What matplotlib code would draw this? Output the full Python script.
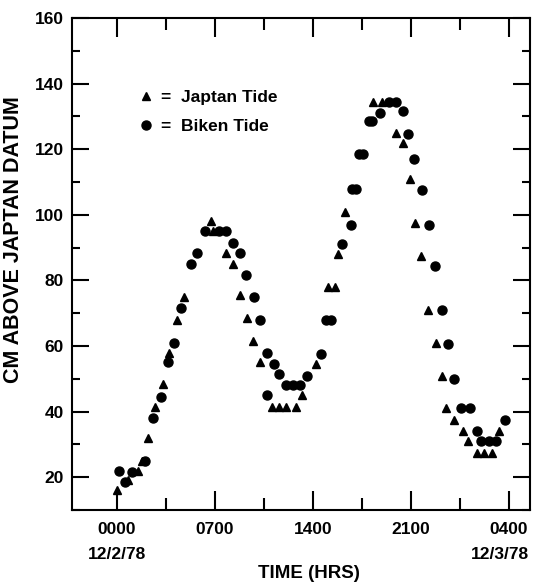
import matplotlib
matplotlib.use("Agg")
import matplotlib.pyplot as plt
import matplotlib.transforms as mtransforms

# hours after 0000 on 12/2/78, cm above Japtan datum
japtan_hrs = [0.0, 0.8, 1.5, 1.8, 2.2, 2.7, 3.3, 3.7, 4.3, 4.8,
              6.7, 6.9, 7.8, 8.3, 8.8, 9.3, 9.7, 10.2, 11.1, 11.6,
              12.1, 12.8, 13.2, 14.2, 15.1, 15.6, 15.8, 16.3, 18.3, 18.9,
              19.9, 20.4, 20.9, 21.3, 21.75, 22.2, 22.8, 23.2, 23.5, 24.1,
              24.7, 25.1, 25.7, 26.2, 26.8, 27.3]
japtan_cm = [16, 19, 22, 25, 32, 41.5, 48.5, 58, 68, 75,
             98, 95, 88.5, 85, 75.5, 68.5, 61.5, 55, 41.5, 41.5,
             41.5, 41.5, 45, 54.5, 78, 78, 88, 101, 134.5, 134.5,
             125, 121.8, 111, 97.5, 87.5, 71, 61, 51, 41, 37.5,
             34, 31, 27.5, 27.5, 27.5, 34]

biken_hrs = [0.15, 0.6, 1.05, 2.0, 2.6, 3.15, 3.65, 4.1, 4.6, 5.3,
             5.75, 6.3, 7.3, 7.8, 8.3, 8.8, 9.2, 9.8, 10.2, 10.7,
             10.7, 11.2, 11.6, 12.1, 12.6, 13.1, 13.6, 14.6, 14.9, 15.3,
             16.1, 16.7, 16.8, 17.1, 17.3, 17.6, 18.0, 18.2, 18.8, 19.4,
             19.9, 20.4, 20.8, 21.2, 21.8, 22.3, 22.75, 23.2, 23.65, 24.1,
             24.6, 25.2, 25.7, 26.0, 26.6, 27.1, 27.7]
biken_cm = [22, 18.5, 21.5, 25, 38, 44.5, 55, 61, 71.5, 85,
            88.5, 95, 95, 95, 91.5, 88.5, 81.5, 75, 68, 58,
            45, 54.5, 51.5, 48, 48, 48, 51, 57.5, 68, 68,
            91, 97, 108, 108, 118.5, 118.5, 128.5, 128.5, 131, 134.5,
            134.5, 131.5, 124.5, 117, 107.5, 97, 84.5, 71, 60.5, 50,
            41, 41, 34, 31, 31, 31, 37.5]

tick_hrs = [0, 7, 14, 21, 28]
tick_labels = ["0000", "0700", "1400", "2100", "0400"]
start_date = "12/2/78"
end_date = "12/3/78"

plt.rcParams["font.family"] = ["Liberation Sans", "DejaVu Sans"]
plt.rcParams["font.weight"] = "bold"

fig = plt.figure(figsize=(5.33, 5.84), dpi=100)
ax = fig.add_axes([72 / 533, 74 / 584, 458 / 533, 492 / 584])

ax.plot(japtan_hrs, japtan_cm, linestyle="none", marker="^", ms=6, color="black",
        label="=  Japtan Tide")
ax.plot(biken_hrs, biken_cm, linestyle="none", marker="o", ms=6.5, color="black",
        label="=  Biken Tide")

ax.set_xlim(-3.2, 29.5)
ax.set_ylim(10, 160)
ax.set_xticks(tick_hrs)
ax.set_xticklabels(tick_labels)
ax.set_xticks([3.5, 10.5, 17.5, 24.5], minor=True)
ax.set_yticks(range(20, 161, 20))
ax.set_yticks(range(10, 161, 20), minor=True)

ax.tick_params(which="both", direction="in", top=True, right=True, width=1.5, labelsize=12.5)
ax.tick_params(axis="x", which="major", length=14, pad=9)
ax.tick_params(axis="x", which="minor", length=8.5)
ax.tick_params(axis="y", which="major", length=12, pad=6)
ax.tick_params(axis="y", which="minor", length=6)
for s in ax.spines.values():
    s.set_linewidth(1.5)

# dates under first and last time ticks
trans = mtransforms.blended_transform_factory(ax.transData, ax.transAxes)
ax.text(tick_hrs[0], -0.09, start_date, transform=trans, ha="center", va="center",
        fontsize=12.5, fontweight="bold")
ax.text(0.998, -0.09, end_date, transform=ax.transAxes, ha="right", va="center",
        fontsize=12.5, fontweight="bold")

ax.set_ylabel("CM ABOVE JAPTAN DATUM", fontsize=15.5, fontweight="bold")
ax.yaxis.set_label_coords(-0.105, 0.55)
ax.set_xlabel("TIME (HRS)", fontsize=13.5, fontweight="bold")
ax.xaxis.set_label_coords(0.517, -0.112)

leg = ax.legend(loc="upper left", bbox_to_anchor=(0.115, 0.885), frameon=False,
                handlelength=0.6, handletextpad=0.6, labelspacing=0.8,
                prop={"size": 12.5, "weight": "bold"})

fig.savefig("out.png", dpi=100)
